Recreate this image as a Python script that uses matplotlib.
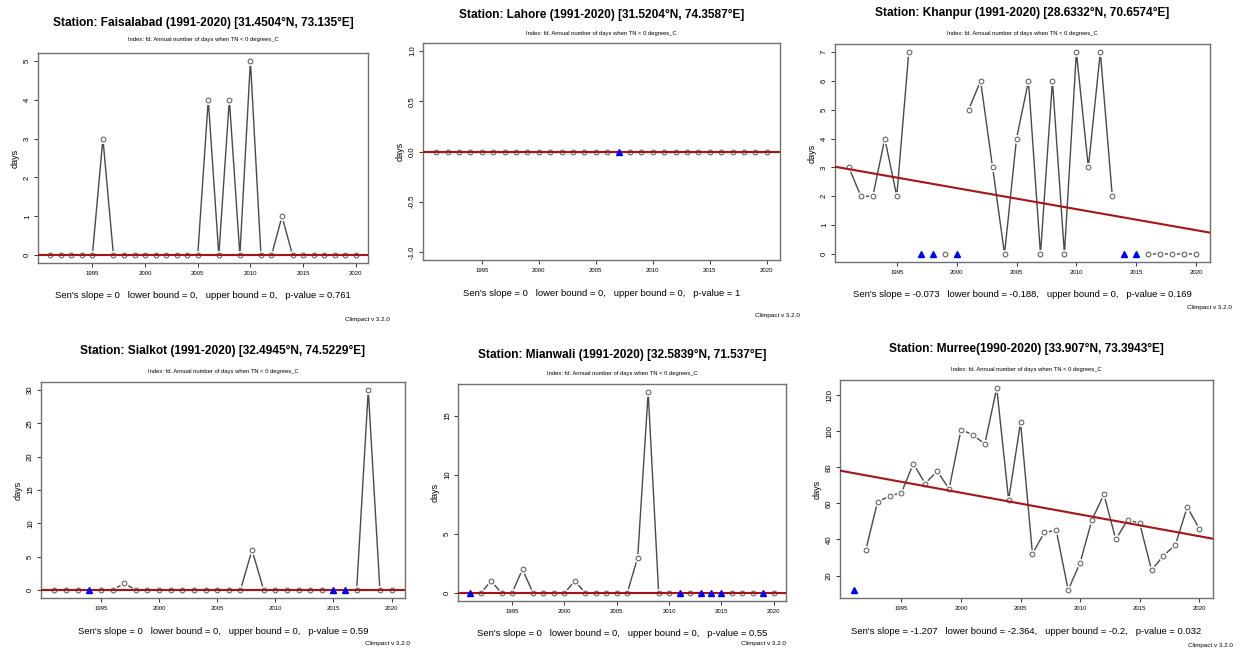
import numpy as np
import matplotlib
matplotlib.use("Agg")
import matplotlib.pyplot as plt

plt.rcParams['font.family'] = ['Liberation Sans', 'DejaVu Sans']

years = np.arange(1991, 2021)
nan = np.nan

# fd: annual number of days when TN < 0 degC (NaN = missing year)
faisalabad = [0, 0, 0, 0, 0, 3, 0, 0, 0, 0, 0, 0, 0, 0, 0,
              4, 0, 4, 0, 5, 0, 0, 1, 0, 0, 0, 0, 0, 0, 0]
lahore = [0, 0, 0, 0, 0, 0, 0, 0, 0, 0, 0, 0, 0, 0, 0,
          0, nan, 0, 0, 0, 0, 0, 0, 0, 0, 0, 0, 0, 0, 0]
khanpur = [3, 2, 2, 4, 2, 7, nan, nan, 0, nan, 5, 6, 3, 0, 4,
           6, 0, 6, 0, 7, 3, 7, 2, nan, nan, 0, 0, 0, 0, 0]
sialkot = [0, 0, 0, nan, 0, 0, 1, 0, 0, 0, 0, 0, 0, 0, 0,
           0, 0, 6, 0, 0, 0, 0, 0, 0, nan, nan, 0, 30, 0, 0]
mianwali = [nan, 0, 1, 0, 0, 2, 0, 0, 0, 0, 1, 0, 0, 0, 0,
            0, 3, 17, 0, 0, nan, 0, nan, nan, nan, 0, 0, 0, nan, 0]
murree = [nan, 34, 61, 64, 66, 82, 71, 78, 68, 101, 98, 93, 124, 62, 105,
          32, 44, 45, 12, 27, 51, 65, 40, 51, 49, 23, 31, 37, 58, 46]

titles = ["Station: Faisalabad (1991-2020) [31.4504°N, 73.135°E]",
          "Station: Lahore (1991-2020) [31.5204°N, 74.3587°E]",
          "Station: Khanpur (1991-2020) [28.6332°N, 70.6574°E]",
          "Station: Sialkot (1991-2020) [32.4945°N, 74.5229°E]",
          "Station: Mianwali (1991-2020) [32.5839°N, 71.537°E]",
          "Station: Murree(1990-2020) [33.907°N, 73.3943°E]"]
series = [faisalabad, lahore, khanpur, sialkot, mianwali, murree]

# Sen's slope trend: value at 1991 and slope per year
trend_1991 = [0, 0, 2.94, 0, 0, 76.8]
sen_slope = [0, 0, -0.073, 0, 0, -1.207]
lower_bound = ["0", "0", "-0.188", "0", "0", "-2.364"]
upper_bound = ["0", "0", "0", "0", "0", "-0.2"]
slope_txt = ["0", "0", "-0.073", "0", "0", "-1.207"]
p_value = ["0.761", "1", "0.169", "0.59", "0.55", "0.032"]
y_ticks = [[0, 1, 2, 3, 4, 5],
           [-1.0, -0.5, 0.0, 0.5, 1.0],
           [0, 1, 2, 3, 4, 5, 6, 7],
           [0, 5, 10, 15, 20, 25, 30],
           [0, 5, 10, 15],
           [20, 40, 60, 80, 100, 120]]

# axes boxes in pixels: left, right, top, bottom
boxes = [(38, 368, 53, 263), (423, 780, 43, 260), (835, 1210, 44, 262),
         (41, 405, 382, 598), (458, 786, 384, 601), (840, 1213, 380, 598)]
title_y = [23, 15, 13, 351, 355, 349]
sub_y = [40, 33, 33, 372, 373, 369]
sen_y = [296, 294, 295, 632, 633, 632]
clim_xy = [(390, 320), (800, 315), (1232, 308), (410, 643), (786, 643), (1233, 645)]

W, H = 1240, 650
fig = plt.figure(figsize=(W / 100, H / 100), dpi=100)

for i in range(6):
    l, r, t, b = boxes[i]
    ax = fig.add_axes([l / W, 1 - b / H, (r - l) / W, (b - t) / H])
    y = np.array(series[i], dtype=float)
    lo, hi = np.nanmin(y), np.nanmax(y)
    if lo == hi:
        lo, hi = lo - 1, hi + 1
    pad = 0.04 * (hi - lo)
    ax.set_xlim(years[0] - 0.04 * 29, years[-1] + 0.04 * 29)
    ax.set_ylim(lo - pad, hi + pad)

    # R type="b": line with gaps around the points
    ax.plot(years, y, color='#4a4a4a', lw=1.0, zorder=1)
    ax.plot(years, y, 'o', ms=6.5, mfc='white', mec='none', zorder=2)
    ax.plot(years, y, 'o', ms=3.4, mfc='none', mec='#666666', mew=0.8, zorder=2.5)

    ax.axline((1991, trend_1991[i]), slope=sen_slope[i], color='#a81414', lw=1.5, zorder=3)

    miss = years[np.isnan(y)]
    ax.plot(miss, np.full(len(miss), np.nanmin(y)), '^', ms=5, color='#0000ff',
            mec='#0000ff', zorder=4, clip_on=False)

    ax.set_xticks([1995, 2000, 2005, 2010, 2015, 2020])
    ax.set_yticks(y_ticks[i])
    if i == 1:
        ax.set_yticklabels(["%.1f" % v for v in y_ticks[i]])
    ax.tick_params(axis='x', labelsize=4.3, length=3, width=0.7, pad=2.5, color='#333333')
    ax.tick_params(axis='y', labelsize=5.6, length=3, width=0.7, pad=2, color='#333333',
                   labelrotation=90)
    for lab in ax.get_yticklabels():
        lab.set_va('center')
    for s in ax.spines.values():
        s.set_color('#707070')
        s.set_linewidth(1.0)
    ax.set_ylabel("days", fontsize=6.5, labelpad=3)

    cx = (l + r) / 2 / W
    fig.text(cx, 1 - title_y[i] / H, titles[i], ha='center', va='center',
             fontsize=8.6, fontweight='bold', family='Liberation Sans')
    fig.text(cx, 1 - sub_y[i] / H,
             "Index: fd. Annual number of days when TN < 0 degrees_C",
             ha='center', va='center', fontsize=4.2)
    sen = ("Sen's slope = %s   lower bound = %s,   upper bound = %s,   p-value = %s"
           % (slope_txt[i], lower_bound[i], upper_bound[i], p_value[i]))
    fig.text(cx, 1 - sen_y[i] / H, sen, ha='center', va='center', fontsize=6.8)
    fig.text(clim_xy[i][0] / W, 1 - clim_xy[i][1] / H, "Climpact v 3.2.0",
             ha='right', va='center', fontsize=4.5)

fig.savefig("out.png", dpi=100, facecolor='white')
